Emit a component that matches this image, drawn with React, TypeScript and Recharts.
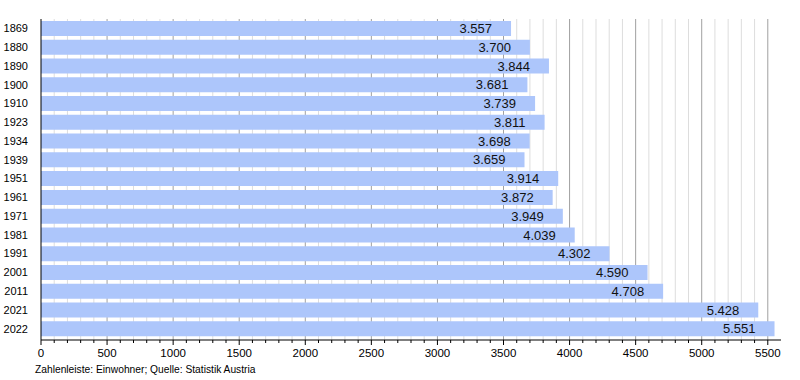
import React from 'react';
import { BarChart, Bar, XAxis, YAxis, CartesianGrid, LabelList } from 'recharts';

const years = ['1869', '1880', '1890', '1900', '1910', '1923', '1934', '1939', '1951', '1961', '1971', '1981', '1991', '2001', '2011', '2021', '2022'];
const population = [3557, 3700, 3844, 3681, 3739, 3811, 3698, 3659, 3914, 3872, 3949, 4039, 4302, 4590, 4708, 5428, 5551];
const majorTicks = [0, 500, 1000, 1500, 2000, 2500, 3000, 3500, 4000, 4500, 5000, 5500];
const minorTicks = Array.from({ length: 56 }, (_, i) => i * 100);
const footer = 'Zahlenleiste: Einwohner; Quelle: Statistik Austria';

const data = years.map((y, i) => ({ year: y, value: population[i] }));

const fmt = (v: number) => {
  const s = String(v);
  return s.length > 3 ? s.slice(0, s.length - 3) + '.' + s.slice(s.length - 3) : s;
};

const FONT = '"Liberation Sans", Arial, sans-serif';
const DOMAIN_MAX = 5600;

const XTick = (props: any) => {
  const { x, y, payload } = props;
  const v = payload.value as number;
  const major = v % 500 === 0;
  return (
    <g>
      <line x1={x} x2={x} y1={y} y2={y + (major ? 5 : 3)} stroke="#000" strokeWidth={1} />
      {major && (
        <text x={x} y={y + 17} textAnchor="middle" fontSize={11.5} fill="#000" fontFamily={FONT}>
          {v}
        </text>
      )}
    </g>
  );
};

const minorGen = ({ offset }: any) =>
  minorTicks.filter((v) => v % 500 !== 0).map((v) => offset.left + (v / DOMAIN_MAX) * offset.width);
const majorGen = ({ offset }: any) =>
  majorTicks.filter((v) => v > 0).map((v) => offset.left + (v / DOMAIN_MAX) * offset.width);

export default function App() {
  return (
    <div style={{ position: 'absolute', left: 0, top: 0, width: 800, height: 380, background: '#fff' }}>
      <BarChart
        width={800}
        height={380}
        data={data}
        layout="vertical"
        margin={{ top: 19, right: 19, bottom: 0, left: 0 }}
        barSize={15}
      >
        <CartesianGrid horizontal={false} verticalCoordinatesGenerator={minorGen} stroke="#dddddd" />
        <CartesianGrid horizontal={false} verticalCoordinatesGenerator={majorGen} stroke="#a0a0a0" />
        <XAxis
          type="number"
          domain={[0, DOMAIN_MAX]}
          ticks={minorTicks}
          interval={0}
          tick={<XTick />}
          tickLine={false}
          tickSize={0}
          tickMargin={0}
          axisLine={{ stroke: '#000' }}
          height={40}
        />
        <YAxis
          type="category"
          dataKey="year"
          width={41}
          tickLine={false}
          axisLine={{ stroke: '#000' }}
          padding={{ top: 0, bottom: 2 }}
          tick={{ fontSize: 11, fill: '#000', fontFamily: FONT }}
          tickMargin={7}
          interval={0}
        />
        <Bar dataKey="value" fill="#adc6fb" isAnimationActive={false}>
          <LabelList
            dataKey="value"
            position="insideRight"
            offset={19}
            formatter={(v: any) => fmt(Number(v))}
            style={{ fontSize: 13, fill: '#111', fontFamily: FONT }}
          />
        </Bar>
      </BarChart>
      <div
        style={{
          position: 'absolute',
          left: 35,
          top: 364,
          fontSize: 10.25,
          fontFamily: FONT,
          color: '#000',
          whiteSpace: 'nowrap',
        }}
      >
        {footer}
      </div>
    </div>
  );
}
